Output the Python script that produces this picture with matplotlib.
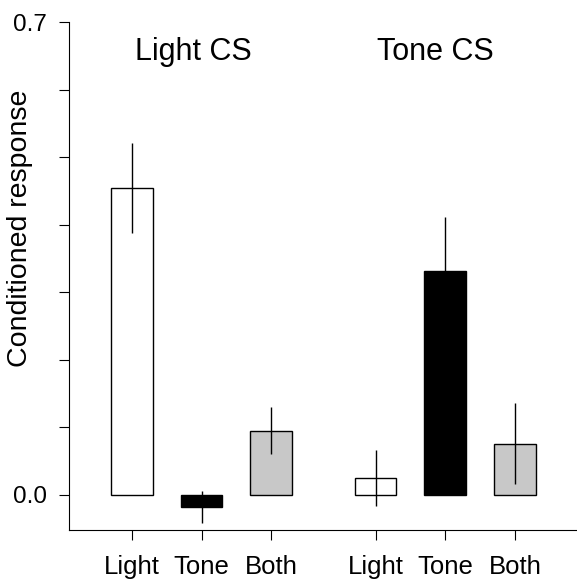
import numpy as np
import matplotlib.pyplot as plt
from matplotlib.ticker import MultipleLocator

# Data
labels = ['Light', 'Tone', 'Both', 'Light', 'Tone', 'Both']
positions = [1, 2, 3, 4.5, 5.5, 6.5]
means = [0.454, -0.018, 0.095, 0.025, 0.332, 0.076]
errs = [0.067, 0.024, 0.035, 0.042, 0.079, 0.060]
colors = ['white', 'black', '#c8c8c8', 'white', 'black', '#c8c8c8']
group_titles = ['Light CS', 'Tone CS']
title_x = [1.88, 5.36]

plt.rcParams['font.family'] = ['Liberation Sans', 'DejaVu Sans']

fig = plt.figure(figsize=(5.77, 5.79), dpi=100)
ax = fig.add_axes([0.1196, 0.0846, 0.88, 0.8774])

ax.bar(positions, means, width=0.6, color=colors, edgecolor='black', linewidth=1.0, zorder=2)
ax.errorbar(positions, means, yerr=errs, fmt='none', ecolor='black', elinewidth=1.0, capsize=0, zorder=3)

ax.set_xlim(0.095, 7.39)
ax.set_ylim(-0.052, 0.7)
ax.set_xticks(positions)
ax.set_xticklabels(labels, fontsize=18.5)
ax.set_yticks([0.0, 0.7])
ax.set_yticklabels(['0.0', '0.7'], fontsize=17.5)
ax.yaxis.set_minor_locator(MultipleLocator(0.1))
ax.tick_params(axis='both', which='both', direction='out', length=7, width=0.8)
ax.tick_params(axis='x', pad=11)
ax.tick_params(axis='y', pad=9)
ax.set_ylabel('Conditioned response', fontsize=20.5)
ax.yaxis.set_label_coords(-0.071, 0.594)

for t, x in zip(group_titles, title_x):
    ax.text(x, 0.655, t, ha='center', va='center', fontsize=22)

ax.spines['top'].set_visible(False)
ax.spines['right'].set_visible(False)

fig.savefig('out.png', dpi=100)
